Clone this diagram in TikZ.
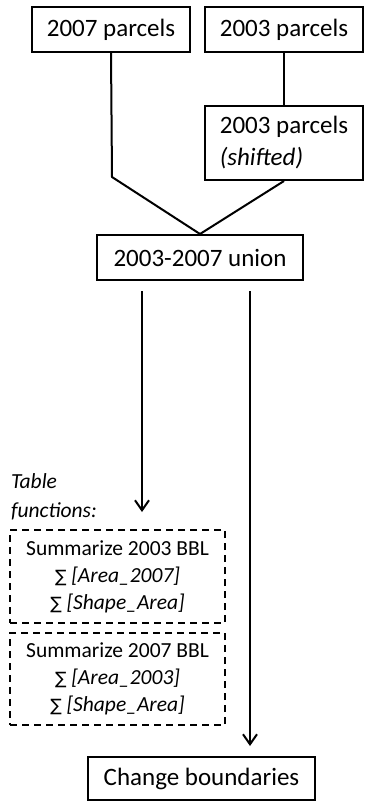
\documentclass[tikz,border=0pt]{standalone}
\usepackage{fontspec}
\setmainfont{Carlito}
\newfontfamily\symfont{DejaVu Sans}
\usetikzlibrary{arrows.meta}
\newcommand{\sumof}[1]{{\symfont\fontsize{17}{20}\selectfont ∑} \textit{[#1]}}

\begin{document}
\begin{tikzpicture}[x=1pt,y=-1pt,line width=2pt,
 main node/.style={draw,rectangle,inner sep=0pt,font=\fontsize{25}{32}\selectfont},
 sum node/.style={draw,dashed,dash pattern=on 7pt off 5pt,rectangle,inner sep=0pt,align=center,
   minimum width=215pt,font=\fontsize{21.5}{27}\selectfont},
 arr/.style={-{Straight Barb[length=10pt,width=14pt,line width=2pt]}}]

  \useasboundingbox[fill=white] (0,0) rectangle (368,803);

  \node[main node,minimum width=158pt,minimum height=45pt] (p07) at (111,29.5) {2007 parcels};
  \node[main node,minimum width=158pt,minimum height=45pt] (p03) at (284,29.5) {2003 parcels};
  \node[main node,minimum width=158pt,minimum height=74pt,align=left] (p03s) at (284,143) {2003 parcels\\\textit{(shifted)}};
  \node[main node,minimum width=206pt,minimum height=45pt] (union) at (200,257.5) {2003-2007 union};
  \node[anchor=west,align=left,inner sep=0pt,font=\fontsize{21.5}{29}\selectfont\itshape] (tabfn) at (10,497) {Table\\functions:};
  \node[sum node,minimum height=93pt] (sum03) at (117.5,576.5) {Summarize 2003 BBL\\\sumof{Area\_2007}\\\sumof{Shape\_Area}};
  \node[sum node,minimum height=92pt] (sum07) at (117.5,679) {Summarize 2007 BBL\\\sumof{Area\_2003}\\\sumof{Shape\_Area}};
  \node[main node,minimum width=227pt,minimum height=43pt] (change) at (201.5,778.5) {Change boundaries};

  \coordinate (bend) at (112,177);
  \draw (p07.south) -- (bend) -- (union.north);
  \draw (p03.south) -- (p03s.north);
  \draw (p03s.south) -- (union.north);
  \draw[arr] ([xshift=-58pt,yshift=-10pt]union.south) -- ([xshift=24.5pt,yshift=17pt]sum03.north);
  \draw[arr] ([xshift=50pt,yshift=-10pt]union.south) -- ([xshift=48.5pt,yshift=10pt]change.north);
\end{tikzpicture}
\end{document}
